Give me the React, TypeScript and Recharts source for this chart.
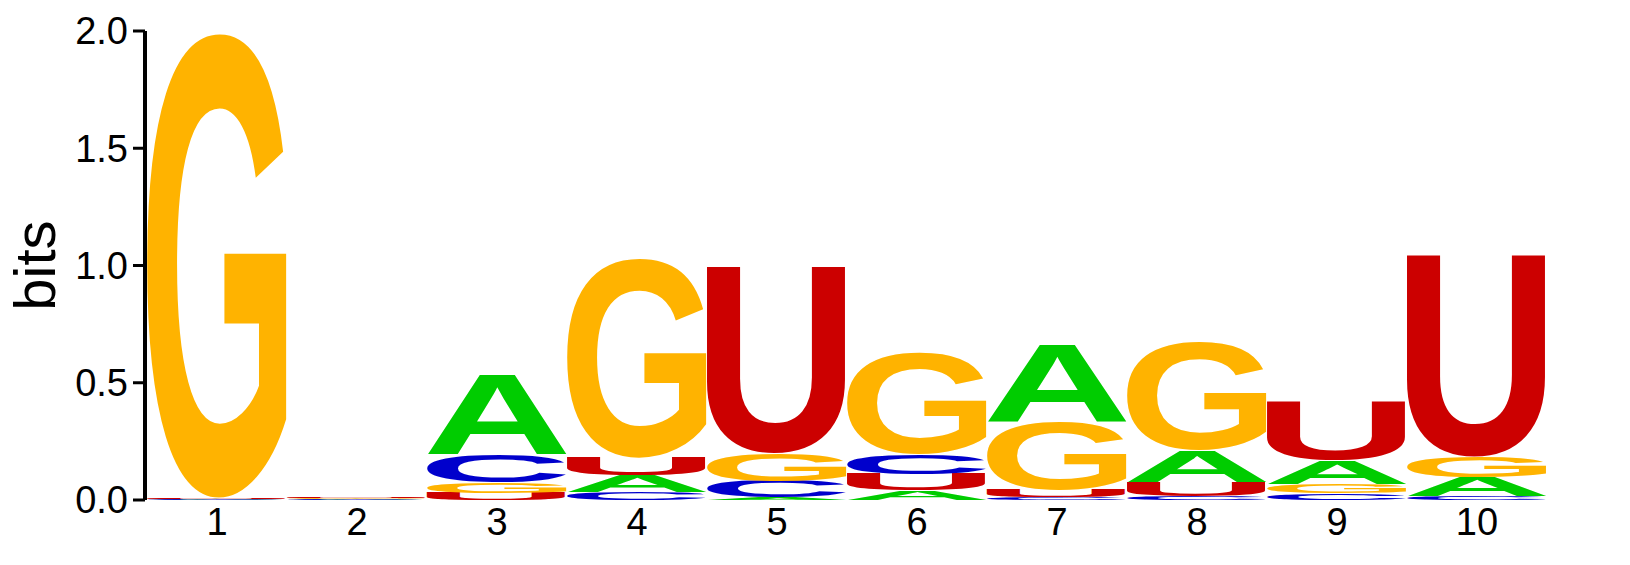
import { BarChart, Bar, XAxis, YAxis } from "recharts";

const positions = ["1", "2", "3", "4", "5", "6", "7", "8", "9", "10"];
const letters = ["A", "C", "G", "U"];
const bitsA = [0.002, 0.002, 0.345, 0.07, 0.01, 0.04, 0.33, 0.135, 0.1, 0.08];
const bitsC = [0.002, 0.002, 0.12, 0.035, 0.07, 0.085, 0.012, 0.015, 0.03, 0.015];
const bitsG = [1.98, 0.003, 0.047, 0.85, 0.12, 0.43, 0.29, 0.46, 0.04, 0.09];
const bitsU = [0.006, 0.006, 0.03, 0.075, 0.796, 0.07, 0.03, 0.06, 0.25, 0.86];
const yTicks = [0, 0.5, 1, 1.5, 2];

const colors: Record<string, string> = {
    A: "#00CC00",
    C: "#0000CC",
    G: "#FFB300",
    U: "#CC0000",
};

const FONT = "'Liberation Sans', Arial, sans-serif";

// one row per position, letters sorted small -> large so the stack goes bottom -> top
const columns = [bitsA, bitsC, bitsG, bitsU];
const rows = positions.map((pos, i) => {
    const sorted = letters
        .map((l, k) => ({ l, v: columns[k][i] }))
        .sort((a, b) => a.v - b.v);
    const row: Record<string, any> = { pos };
    sorted.forEach((s, r) => {
        row["r" + r] = s.v;
        row["l" + r] = s.l;
    });
    return row;
});

const boxes: Record<string, { left: number; right: number; ascent: number; descent: number }> = {};
function inkBox(ch: string) {
    if (!boxes[ch]) {
        const ctx = document.createElement("canvas").getContext("2d")!;
        ctx.font = `bold 100px ${FONT}`;
        const m = ctx.measureText(ch);
        boxes[ch] = {
            left: m.actualBoundingBoxLeft,
            right: m.actualBoundingBoxRight,
            ascent: m.actualBoundingBoxAscent,
            descent: m.actualBoundingBoxDescent,
        };
    }
    return boxes[ch];
}

// stretch one glyph so its ink fills the bar rectangle
function Letter(props: any) {
    const { x, y, width, height, letter } = props;
    if (!letter || !(height > 0) || !(width > 0)) return null;
    const b = inkBox(letter);
    const sx = width / (b.left + b.right);
    const sy = height / (b.ascent + b.descent);
    return (
        <text
            x={0}
            y={0}
            fontSize={100}
            fontWeight="bold"
            fontFamily={FONT}
            fill={colors[letter]}
            transform={`translate(${x},${y}) scale(${sx},${sy}) translate(${b.left},${b.ascent})`}
        >
            {letter}
        </text>
    );
}

function BitsLabel(props: any) {
    const { viewBox } = props;
    const cx = viewBox.x + 10;
    const cy = viewBox.y + viewBox.height / 2;
    return (
        <text
            x={cx}
            y={cy}
            transform={`rotate(-90 ${cx} ${cy})`}
            textAnchor="middle"
            fontSize={58}
            fontFamily={FONT}
            fill="#000"
        >
            bits
        </text>
    );
}

export default function App() {
    return (
        <BarChart
            width={1614}
            height={549}
            data={rows}
            margin={{ top: 23, right: 75, bottom: 27, left: 37 }}
            barCategoryGap={0}
            barGap={0}
            style={{ fontFamily: FONT }}
        >
            <XAxis
                dataKey="pos"
                axisLine={false}
                tickLine={false}
                tickSize={0}
                tickMargin={8}
                padding={{ left: 2, right: 0 }}
                tick={{ fontSize: 38, fill: "#000" }}
                interval={0}
            />
            <YAxis
                width={100}
                domain={[0, 2]}
                ticks={yTicks}
                tickFormatter={(v: number) => v.toFixed(1)}
                axisLine={{ stroke: "#000", strokeWidth: 4 }}
                tickLine={{ stroke: "#000", strokeWidth: 3 }}
                tickSize={12}
                tickMargin={5}
                tick={{ fontSize: 38, fill: "#000" }}
                label={<BitsLabel />}
            />
            {[0, 1, 2, 3].map((r) => (
                <Bar
                    key={r}
                    dataKey={"r" + r}
                    stackId="logo"
                    isAnimationActive={false}
                    shape={(p: any) => <Letter {...p} letter={p.payload["l" + r]} />}
                />
            ))}
        </BarChart>
    );
}
